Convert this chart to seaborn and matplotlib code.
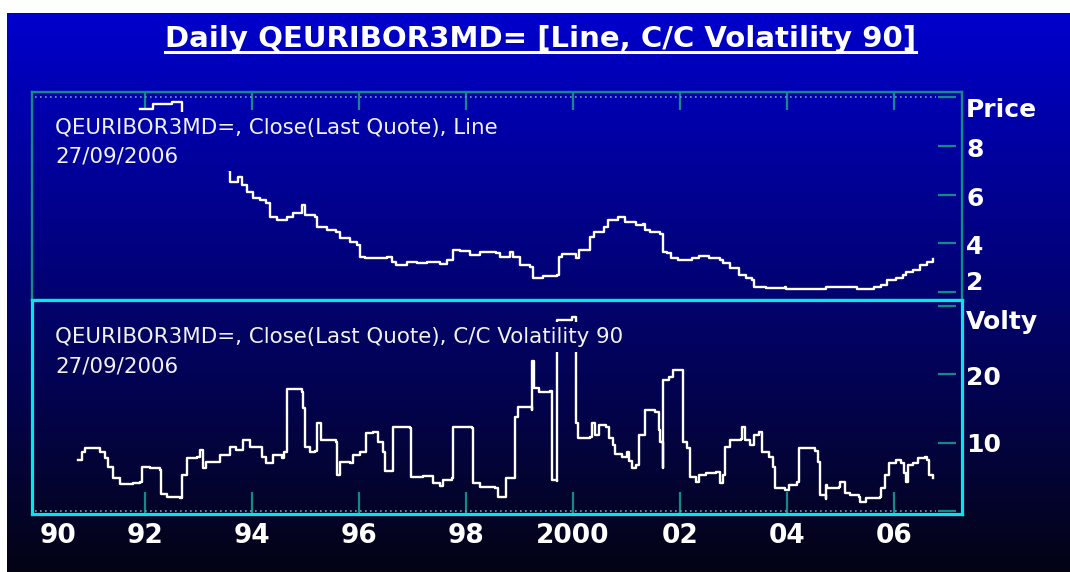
import numpy as np
import matplotlib
matplotlib.use("Agg")
import matplotlib.pyplot as plt
import matplotlib.transforms as mtrans
from matplotlib.lines import Line2D
import seaborn as sns

# ---- data (decimal years) ----
price_years = [1991.91, 1992.15, 1992.41, 1992.50, 1992.69, 1992.70, 1993.20, 1993.45,
               1993.53, 1993.59, 1993.74, 1993.81, 1993.90, 1994.02, 1994.15, 1994.27,
               1994.34, 1994.46, 1994.65, 1994.77, 1994.90, 1994.93, 1994.99, 1995.18,
               1995.21, 1995.40, 1995.58, 1995.64, 1995.83, 1995.96, 1996.02, 1996.11,
               1996.39, 1996.52, 1996.61, 1996.70, 1996.89, 1997.08, 1997.27, 1997.51,
               1997.64, 1997.76, 1997.89, 1998.07, 1998.26, 1998.57, 1998.64, 1998.82,
               1998.88, 1999.01, 1999.20, 1999.26, 1999.44, 1999.70, 1999.73, 1999.79,
               2000.06, 2000.12, 2000.32, 2000.39, 2000.58, 2000.65, 2000.84, 2000.97,
               2001.17, 2001.30, 2001.34, 2001.44, 2001.63, 2001.69, 2001.76, 2001.83,
               2001.96, 2002.22, 2002.36, 2002.55, 2002.75, 2002.81, 2002.94, 2003.11,
               2003.24, 2003.34, 2003.39, 2003.60, 2003.96, 2003.99, 2004.71, 2004.73,
               2005.27, 2005.30, 2005.57, 2005.63, 2005.76, 2005.86, 2006.03, 2006.16,
               2006.22, 2006.36, 2006.49, 2006.62, 2006.72]
price_values = [9.52, 9.72, 9.72, 9.80, 9.80, 9.00, 8.20, 7.60,
                7.01, 6.53, 6.73, 6.39, 6.12, 5.86, 5.78, 5.64,
                5.09, 4.96, 5.09, 5.23, 5.24, 5.57, 5.16, 5.09,
                4.68, 4.55, 4.48, 4.21, 4.07, 3.93, 3.45, 3.38,
                3.38, 3.45, 3.24, 3.11, 3.24, 3.18, 3.24, 3.15,
                3.31, 3.72, 3.70, 3.52, 3.66, 3.59, 3.45, 3.66,
                3.45, 3.11, 3.04, 2.59, 2.66, 2.70, 3.45, 3.55,
                3.38, 3.72, 4.27, 4.48, 4.68, 4.96, 5.09, 4.89,
                4.75, 4.78, 4.55, 4.48, 4.37, 3.66, 3.59, 3.38,
                3.31, 3.38, 3.49, 3.41, 3.31, 3.18, 2.97, 2.70,
                2.56, 2.49, 2.22, 2.18, 2.22, 2.12, 2.12, 2.22,
                2.22, 2.12, 2.12, 2.22, 2.29, 2.49, 2.56, 2.70,
                2.83, 2.90, 3.11, 3.24, 3.36]

vol_years = [1990.75, 1990.82, 1990.88, 1991.07, 1991.16, 1991.25, 1991.31, 1991.41,
             1991.53, 1991.78, 1991.91, 1991.94, 1992.09, 1992.28, 1992.31, 1992.41,
             1992.65, 1992.69, 1992.78, 1992.97, 1993.03, 1993.08, 1993.15, 1993.40,
             1993.59, 1993.71, 1993.84, 1993.96, 1994.12, 1994.18, 1994.27, 1994.40,
             1994.56, 1994.60, 1994.65, 1994.93, 1994.96, 1994.99, 1995.08, 1995.18,
             1995.21, 1995.30, 1995.58, 1995.59, 1995.64, 1995.83, 1995.89, 1996.02,
             1996.14, 1996.27, 1996.36, 1996.45, 1996.49, 1996.61, 1996.63, 1996.95,
             1996.97, 1997.20, 1997.39, 1997.51, 1997.58, 1997.73, 1997.76, 1998.11,
             1998.14, 1998.26, 1998.54, 1998.60, 1998.73, 1998.75, 1998.88, 1998.92,
             1998.98, 1999.23, 1999.24, 1999.28, 1999.37, 1999.57, 1999.60, 1999.70,
             1999.71, 1999.91, 1999.98, 2000.05, 2000.06, 2000.09, 2000.32, 2000.36,
             2000.42, 2000.49, 2000.62, 2000.68, 2000.75, 2000.78, 2000.91, 2001.01,
             2001.04, 2001.11, 2001.17, 2001.24, 2001.34, 2001.53, 2001.60, 2001.63,
             2001.68, 2001.69, 2001.79, 2001.86, 2002.04, 2002.06, 2002.13, 2002.19,
             2002.29, 2002.36, 2002.49, 2002.68, 2002.74, 2002.81, 2002.85, 2002.94,
             2003.14, 2003.16, 2003.21, 2003.30, 2003.39, 2003.47, 2003.53, 2003.66,
             2003.73, 2003.77, 2003.96, 2004.03, 2004.19, 2004.22, 2004.32, 2004.52,
             2004.58, 2004.62, 2004.72, 2004.73, 2004.75, 2004.98, 2004.99, 2005.04,
             2005.08, 2005.17, 2005.34, 2005.36, 2005.47, 2005.73, 2005.76, 2005.83,
             2005.90, 2006.03, 2006.13, 2006.19, 2006.22, 2006.26, 2006.36, 2006.45,
             2006.57, 2006.62, 2006.66, 2006.72]
vol_values = [7.46, 8.67, 9.26, 9.16, 8.67, 7.70, 6.48, 4.78,
              3.90, 4.14, 4.29, 6.48, 6.33, 5.99, 2.44, 2.09,
              1.85, 5.26, 7.70, 7.94, 8.92, 6.24, 7.21, 8.19,
              9.41, 8.92, 10.38, 9.41, 9.41, 7.94, 6.97, 8.19,
              7.70, 8.67, 17.79, 17.44, 15.01, 9.40, 8.67, 8.77,
              12.82, 10.38, 10.13, 5.26, 7.21, 6.97, 8.19, 8.67,
              11.36, 11.59, 10.13, 8.67, 5.85, 5.85, 12.33, 12.09,
              5.02, 5.17, 4.05, 3.70, 4.53, 4.78, 12.33, 12.09,
              4.05, 3.56, 3.41, 2.09, 2.09, 4.78, 4.87, 13.79,
              15.25, 14.77, 21.93, 17.93, 17.44, 17.54, 4.53, 4.39,
              27.90, 27.90, 28.40, 28.40, 12.82, 10.62, 10.87, 12.82,
              11.11, 12.57, 12.33, 10.62, 9.65, 8.28, 7.94, 8.67,
              7.31, 6.24, 6.73, 11.11, 14.77, 14.52, 11.84, 10.13,
              6.24, 19.15, 19.63, 20.61, 20.61, 10.13, 9.16, 5.02,
              4.29, 5.26, 5.51, 5.75, 4.05, 5.26, 9.40, 10.38,
              10.53, 12.33, 10.38, 9.65, 11.11, 11.59, 8.67, 7.94,
              6.48, 3.41, 3.07, 3.80, 4.29, 9.16, 9.26, 8.77,
              7.21, 2.34, 1.75, 3.80, 3.41, 3.56, 4.19, 4.19,
              2.59, 2.34, 2.09, 1.36, 1.95, 2.09, 3.31, 5.26,
              6.97, 7.46, 6.97, 5.51, 4.19, 6.73, 6.97, 7.79,
              7.94, 7.46, 5.26, 4.78]

x_tick_years = [1992, 1994, 1996, 1998, 2000, 2002, 2004, 2006]
x_tick_labels = ["92", "94", "96", "98", "2000", "02", "04", "06"]
price_ticks = [2, 4, 6, 8, 10]
price_tick_labels = ["2", "4", "6", "8", "Price"]
vol_ticks = [0, 10, 20, 30]
vol_tick_labels = ["", "10", "20", "Volty"]

title = "Daily QEURIBOR3MD= [Line, C/C Volatility 90]"
price_note = "QEURIBOR3MD=, Close(Last Quote), Line"
vol_note = "QEURIBOR3MD=, Close(Last Quote), C/C Volatility 90"
note_date = "27/09/2006"

# ---- figure ----
W, H = 1070, 572
teal = "#138a8a"
cyan = "#00e8e8"

fig = plt.figure(figsize=(W / 100, H / 100), dpi=100, facecolor="white")


def px_axes(x0, y0, x1, y1, **kw):
    return fig.add_axes([x0 / W, 1 - y1 / H, (x1 - x0) / W, (y1 - y0) / H], **kw)


def grad_rgb(ypix):
    t = np.clip((np.asarray(ypix) - 13) / (H - 13), 0, 1)
    top = np.array([0, 0, 205]) / 255
    bot = np.array([4, 4, 20]) / 255
    return top + (bot - top) * t[:, None]


def gradient_patch(x0, y0, x1, y1, z):
    a = px_axes(x0, y0, x1, y1, zorder=z)
    ys = np.arange(y0, y1) + 0.5
    a.imshow(grad_rgb(ys)[:, None, :], aspect="auto", extent=[0, 1, 0, 1],
             interpolation="bilinear")
    a.set_axis_off()
    return a


# blue gradient background
gradient_patch(7, 13, W, H, 0)

ax_p = px_axes(32, 92, 962, 300, zorder=1)
ax_v = px_axes(32, 300, 962, 514, zorder=2)

for ax, col, lw in [(ax_p, teal, 1.7), (ax_v, cyan, 2.3)]:
    ax.set_facecolor("none")
    for s in ax.spines.values():
        s.set_color(col)
        s.set_linewidth(lw)
    ax.set_xlim(1989.89, 2007.27)
    ax.set_yticks([])

sns.lineplot(x=price_years, y=price_values, ax=ax_p, color="white", linewidth=1.7,
             estimator=None, sort=False, drawstyle="steps-post")
sns.lineplot(x=vol_years, y=vol_values, ax=ax_v, color="white", linewidth=1.7,
             estimator=None, sort=False, drawstyle="steps-post")
ax_p.set_ylim(1.67, 10.21)
ax_v.set_ylim(-0.44, 30.85)

# dotted limit lines
ax_p.axhline(10, xmin=0.003, xmax=0.972, color="#7a98b8", lw=1.2, ls=(0, (1, 2)))
ax_v.axhline(0, xmin=0.003, xmax=0.972, color="#7a98b8", lw=1.2, ls=(0, (1, 2)))

# x ticks
ax_p.set_xticks(x_tick_years)
ax_p.tick_params(axis="x", direction="in", top=True, bottom=False, labelbottom=False,
                 length=13, width=1.6, color=teal)
ax_v.set_xticks(x_tick_years, labels=x_tick_labels)
ax_v.tick_params(axis="x", direction="in", length=16, width=1.6, color=teal,
                 labelcolor="white", labelsize=19, pad=6.5)
for lab in ax_v.get_xticklabels():
    lab.set_fontweight("bold")
ax_v.text(1990, 0, "90", transform=mtrans.offset_copy(ax_v.get_xaxis_transform(), fig=fig,
          x=20, y=-6.5 * 100 / 72, units="dots"),
          ha="center", va="top", fontsize=19, fontweight="bold", color="white")
ax_p.set_xlabel("")
ax_v.set_xlabel("")


# right-hand tick marks and labels
def right_axis(ax, ticks, labels, shifts):
    ytr = ax.get_yaxis_transform()
    ax.hlines(ticks, 0.9742, 0.9935, transform=ytr, color=teal, lw=1.6, clip_on=False)
    for v, lab, dy in zip(ticks, labels, shifts):
        tr = mtrans.offset_copy(ytr, fig=fig, x=4, y=-dy, units="dots")
        ax.text(1.0, v, lab, transform=tr, ha="left", va="center", fontsize=18,
                fontweight="bold", color="white", clip_on=False)


right_axis(ax_p, price_ticks, price_tick_labels, [-9, 4, 4, 4, 13])
right_axis(ax_v, vol_ticks, vol_tick_labels, [0, 2, 4, 16])

# legend boxes that hide the line behind them
gradient_patch(50, 112, 503, 171, 3)
gradient_patch(50, 322, 628, 352, 3)
gradient_patch(50, 352, 183, 378, 3)

note_kw = dict(fontsize=15.4, color="#f2f2f2", va="baseline", ha="left", zorder=6)
fig.text(55 / W, 1 - 134 / H, price_note, **note_kw)
fig.text(55 / W, 1 - 162 / H, note_date, **note_kw)
fig.text(55 / W, 1 - 343 / H, vol_note, **note_kw)
fig.text(55 / W, 1 - 372 / H, note_date, **note_kw)

t = fig.text(540.5 / W, 1 - 47 / H, title, ha="center", va="baseline", fontsize=21,
             fontweight="bold", color="white", zorder=6)

fig.canvas.draw()
bb = t.get_window_extent(fig.canvas.get_renderer())
fig.add_artist(Line2D([bb.x0, bb.x1], [H - 51.5, H - 51.5], color="white", lw=2.2,
                      transform=mtrans.IdentityTransform(), zorder=6))

fig.savefig("out.png", dpi=100, facecolor="white")
